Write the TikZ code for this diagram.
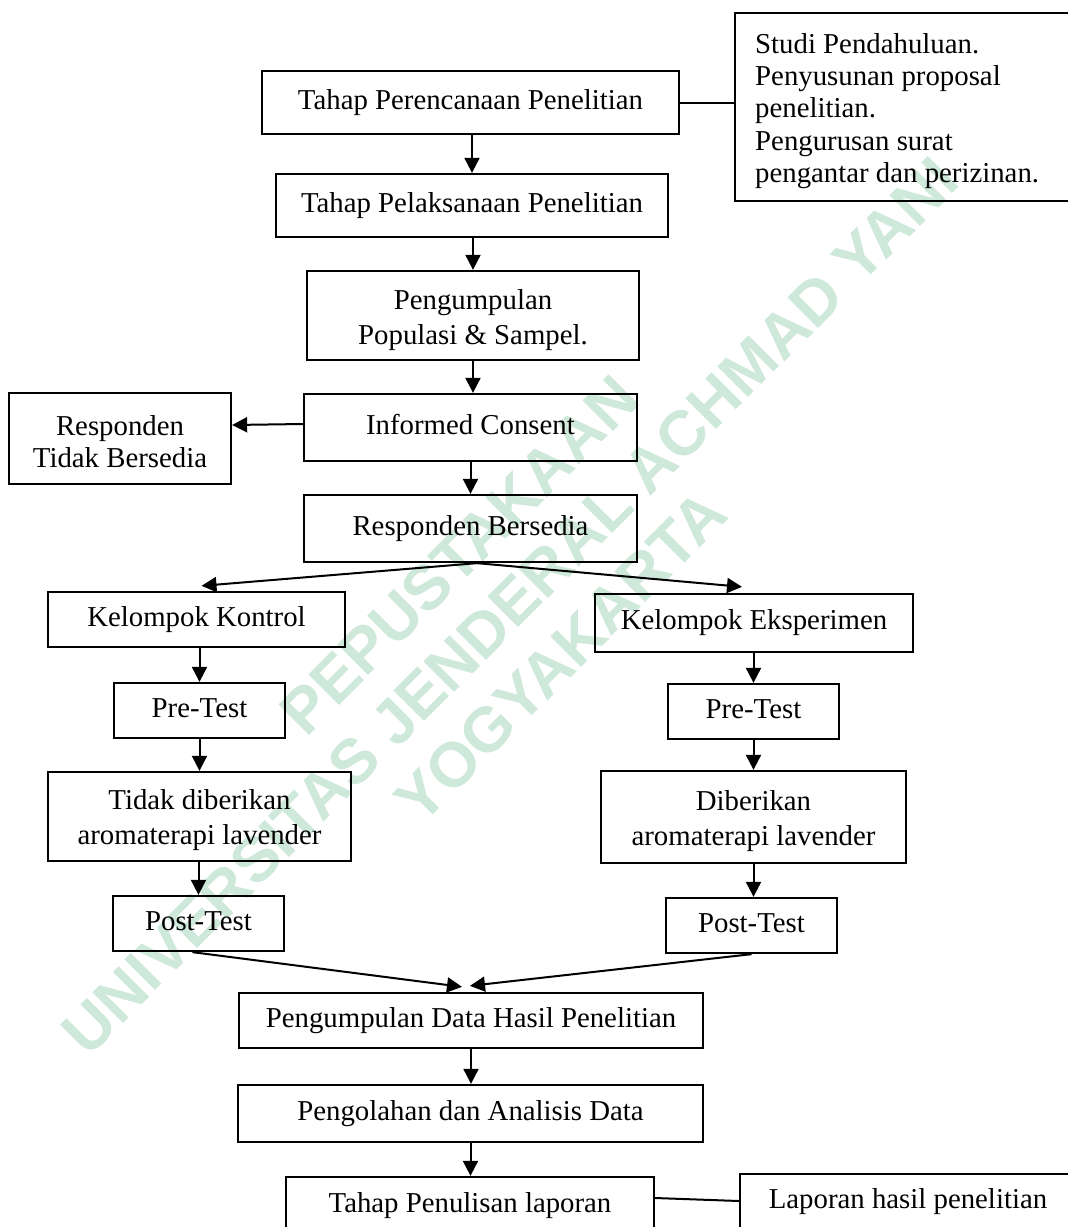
\documentclass[tikz,border=0pt]{standalone}
\usepackage{fontspec}
\setmainfont{Liberation Serif}
\newfontfamily\wmfont{Liberation Sans}
\usetikzlibrary{arrows.meta,calc}
\definecolor{wm}{RGB}{206,232,218}
\newcommand{\upstrut}[1]{\rule{0pt}{#1}}
\begin{document}
\begin{tikzpicture}[x=1pt,y=-1pt,
  pbox/.style={draw, line width=2.3pt, inner sep=0pt, font=\fontsize{28.8}{34.5}\selectfont, align=center},
  sl/.style={text height=20pt, text depth=6.2pt},
  arr/.style={line width=2pt, -{Triangle[length=15pt,width=15pt]}},
  ln/.style={line width=2pt}]
\useasboundingbox[fill=white] (0,0) rectangle (1068,1227);

% watermark
\node[font=\wmfont\bfseries\fontsize{63}{72}\selectfont, text=wm, rotate=45, align=center, inner sep=0pt] (wmk) at (510,606) {PEPUSTAKAAN\\UNIVERSITAS JENDERAL ACHMAD YANI\\YOGYAKARTA};

% boxes
\node[pbox, sl, minimum width=417, minimum height=63] (P1) at (470.5,102.5) {Tahap Perencanaan Penelitian};
\node[pbox, minimum width=340, minimum height=188, anchor=north west] (R) at (734,12) {};
\node[font=\fontsize{28.8}{32.3}\selectfont, align=left, anchor=west, inner sep=0pt] (Rt) at (755,111) {Studi Pendahuluan.\\Penyusunan proposal\\penelitian.\\Pengurusan surat\\pengantar dan perizinan.};
\node[pbox, sl, minimum width=392, minimum height=63] (P2) at (472,205.5) {Tahap Pelaksanaan Penelitian};
\node[pbox, minimum width=332, minimum height=89] (P3) at (473,315.5) {\upstrut{29pt}Pengumpulan\\Populasi \& Sampel.};
\node[pbox, sl, minimum width=333, minimum height=67] (P4) at (470.5,427.5) {Informed Consent};
\node[pbox, minimum width=222, minimum height=91, font=\fontsize{28.8}{31.5}\selectfont] (L) at (120,438.5) {\upstrut{26pt}Responden\\Tidak Bersedia};
\node[pbox, sl, minimum width=333, minimum height=67] (P5) at (470.5,528.5) {Responden Bersedia};
\node[pbox, sl, minimum width=297, minimum height=55] (K1) at (196.5,619.5) {Kelompok Kontrol};
\node[pbox, sl, minimum width=318, minimum height=58] (K2) at (754,623) {Kelompok Eksperimen};
\node[pbox, sl, minimum width=171, minimum height=55] (Q1) at (199.5,710.5) {Pre-Test};
\node[pbox, sl, minimum width=171, minimum height=55] (Q2) at (753.5,711.5) {Pre-Test};
\node[pbox, minimum width=303, minimum height=89] (T1) at (199.5,816.5) {\upstrut{27pt}Tidak diberikan\\aromaterapi lavender};
\node[pbox, minimum width=305, minimum height=92] (T2) at (753.5,817) {\upstrut{28pt}Diberikan\\aromaterapi lavender};
\node[pbox, sl, minimum width=171, minimum height=55] (S1) at (198.5,923.5) {Post-Test};
\node[pbox, sl, minimum width=171, minimum height=55] (S2) at (751.5,925.5) {Post-Test};
\node[pbox, sl, minimum width=464, minimum height=55] (D1) at (471,1020.5) {Pengumpulan Data Hasil Penelitian};
\node[pbox, sl, minimum width=465, minimum height=57] (D2) at (470.5,1113.5) {Pengolahan dan Analisis Data};
\node[pbox, sl, minimum width=368, minimum height=58] (D3) at (470,1206) {Tahap Penulisan laporan};
\node[pbox, sl, minimum width=336, minimum height=56] (D4) at (908,1202) {Laporan hasil penelitian};

% connectors
\draw[ln] (P1.east) -- (R.west |- P1.east);
\draw[arr] (P1.south -| P2.north) -- (P2.north);
\draw[arr] (P2.south -| P3.north) -- (P3.north);
\draw[arr] (P3.south) -- (P3.south |- P4.north);
\draw[arr] ([yshift=3.5pt]P4.west) -- ([yshift=13.5pt]L.east);
\draw[arr] (P4.south) -- (P5.north);
\coordinate (split) at ([xshift=6.5pt]P5.south);
\draw[arr] (split) -- ([xshift=5pt,yshift=5pt]K1.north);
\draw[arr] (split) -- ([xshift=-12pt,yshift=6pt]K2.north);
\draw[arr] (K1.south -| Q1.north) -- (Q1.north);
\draw[arr] (Q1.south) -- (T1.north);
\draw[arr] (T1.south -| S1.north) -- (S1.north);
\draw[arr] (K2.south -| Q2.north) -- (Q2.north);
\draw[arr] (Q2.south) -- (T2.north);
\draw[arr] (T2.south) -- (T2.south |- S2.north);
\draw[arr] ([xshift=-6pt]S1.south) -- ([xshift=-9pt,yshift=5pt]D1.north);
\draw[arr] (S2.south) -- ([xshift=-1pt,yshift=6pt]D1.north);
\draw[arr] (D1.south) -- (D1.south |- D2.north);
\draw[arr] (D2.south) -- (D2.south |- D3.north);
\draw[ln] ([yshift=8pt]D3.east) -- ([yshift=1pt]D4.west);
\end{tikzpicture}
\end{document}
